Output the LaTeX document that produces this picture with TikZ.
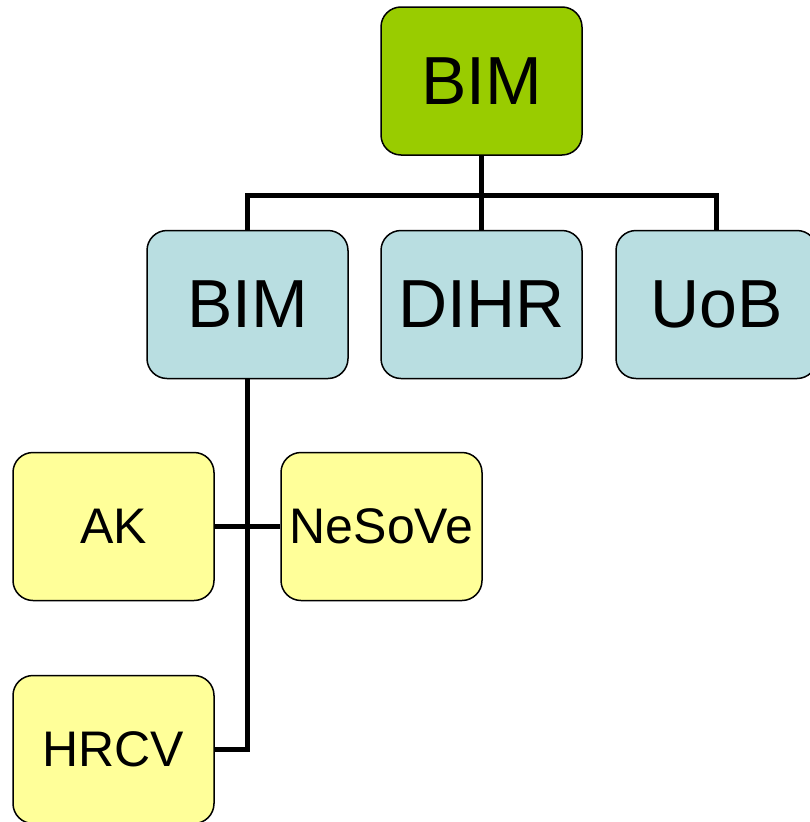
\documentclass[tikz,border=0pt]{standalone}
\usepackage{fontspec}
\setmainfont{Liberation Sans}
\definecolor{TopColor}{RGB}{153,204,0}
\definecolor{MidColor}{RGB}{185,222,225}
\definecolor{LeafColor}{RGB}{255,255,153}
\usepackage{tikz}
\usetikzlibrary{positioning, calc}
\tikzset{
  unit/.style={rectangle, rounded corners=20pt, draw=black, line width=1.5pt, minimum width=201pt, minimum height=148pt, inner sep=0pt},
  top unit/.style={unit, fill=TopColor, font=\fontsize{68}{82}\selectfont},
  mid unit/.style={unit, fill=MidColor, font=\fontsize{68}{82}\selectfont},
  leaf unit/.style={unit, fill=LeafColor, font=\fontsize{50}{60}\selectfont},
  link/.style={line width=5pt, black}
}

\begin{document}
\begin{tikzpicture}[x=1pt, y=-1pt]
                \useasboundingbox (0,0) rectangle (810,822);

                % Top
                \node[top unit] (top) at (481.5,81) {BIM};

                % Second row
                \node[mid unit] (bim) at (247.5,304.5) {BIM};
                \node[mid unit] (dihr) at (481.5,304.5) {DIHR};
                \node[mid unit] (uob) at (716.5,304.5) {UoB};

                % Leaves
                \node[leaf unit] (ak) at (113.5,526.5) {AK};
                \node[leaf unit] (nesove) at (381.5,526.5) {NeSoVe};
                \node[leaf unit] (hrcv) at (113.5,749.5) {HRCV};

                % Links
                \coordinate (fork) at (481.5,195);
                \draw[link] (top.south) -- (fork);
                \draw[link] (bim.north) |- (fork) -| (uob.north);
                \draw[link] (fork) -- (dihr.north);
                \draw[link] (bim.south) |- (hrcv.east);
                \draw[link] (ak.east) -- (nesove.west);
            \end{tikzpicture}
\end{document}
